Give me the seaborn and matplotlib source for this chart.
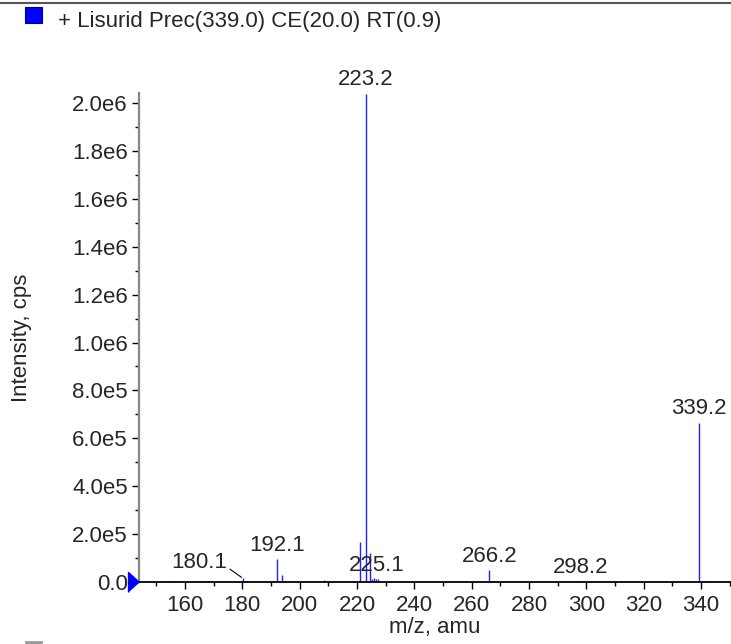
import numpy as np
import matplotlib.pyplot as plt
import seaborn as sns
from matplotlib.ticker import MultipleLocator, FuncFormatter
from matplotlib.patches import Rectangle
from matplotlib.lines import Line2D
import matplotlib.transforms as mtransforms

sns.set_theme(style='ticks')
plt.rcParams['font.family'] = ['Liberation Sans', 'DejaVu Sans']

# spectrum data
title = '+ Lisurid Prec(339.0) CE(20.0) RT(0.9)'
mz = [154.5, 167.5, 168.0, 180.1, 181.8, 190.7, 192.1, 194.0, 208.4, 221.2,
      223.2, 224.6, 225.1, 226.0, 226.6, 227.3, 266.2, 267.2, 298.2, 339.2, 341.0]
intensity = [3e3, 4e3, 4e3, 1.5e4, 3e3, 4e3, 9.35e4, 2.8e4, 7e3, 1.67e5,
             2.04e6, 1.19e5, 1.2e4, 1.5e4, 1.0e4, 1.2e4, 4.9e4, 3e3, 2e3, 6.64e5, 3e3]
peak_labels = ['180.1', '192.1', '223.2', '225.1', '266.2', '298.2', '339.2']

fs = 16

fig = plt.figure(figsize=(7.31, 6.44), dpi=100)
ax = fig.add_axes([0.1902, 0.0967, 0.8098, 0.7589])

ax.vlines(mz, 0, intensity, colors='#2020ff', lw=1.0)

ax.set_xlim(143.96, 350.5)
ax.set_ylim(0, 2.043e6)

# peak labels
for lab in peak_labels:
    x = float(lab)
    y = intensity[mz.index(x)]
    if lab == '180.1':
        ax.annotate(lab, xy=(x, y), xytext=(-11.5, 3.6), textcoords='offset points',
                    ha='right', va='bottom', fontsize=fs,
                    arrowprops=dict(arrowstyle='-', color='black', lw=0.8,
                                    shrinkA=0, shrinkB=1, relpos=(1, 0.3)))
    elif lab == '225.1':
        ax.annotate(lab, xy=(x, y), xytext=(4, 2), textcoords='offset points',
                    ha='center', va='bottom', fontsize=fs)
    else:
        ax.annotate(lab, xy=(x, y), xytext=(0, 2.5), textcoords='offset points',
                    ha='center', va='bottom', fontsize=fs)

def sci(v, pos):
    if v < 1:
        return '0.0'
    e = int(np.floor(np.log10(v) + 1e-9))
    return f'{v / 10**e:.1f}e{e}'

ax.xaxis.set_major_locator(MultipleLocator(20))
ax.xaxis.set_minor_locator(MultipleLocator(10))
ax.yaxis.set_major_locator(MultipleLocator(2e5))
ax.yaxis.set_minor_locator(MultipleLocator(1e5))
ax.yaxis.set_major_formatter(FuncFormatter(sci))

ax.tick_params(axis='both', which='major', labelsize=fs, length=5, width=1, color='black')
ax.tick_params(axis='both', which='minor', length=3, width=1, color='black')
ax.tick_params(axis='x', which='major', pad=4.5)
ax.tick_params(axis='y', which='major', pad=3)

sns.despine(ax=ax, top=True, right=True)
ax.spines['left'].set_color('#888888')
ax.spines['left'].set_linewidth(1.6)
ax.spines['bottom'].set_color('black')
ax.spines['bottom'].set_linewidth(1.3)

ax.set_xlabel('m/z, amu', fontsize=fs, labelpad=0.5)
ax.set_ylabel('Intensity, cps', fontsize=fs)
ax.yaxis.set_label_coords(-0.18, 0.5)

# blue marker on the y axis at zero
off = mtransforms.ScaledTranslation(-0.5 / 100, 0, fig.dpi_scale_trans)
ax.plot([143.96], [0], marker=[(0, 0), (-1.1, 1), (-1.1, -1)], markersize=15.8,
        color='blue', clip_on=False, transform=ax.transData + off, zorder=5)

# header: separator line, legend square and title
fig.add_artist(Line2D([0, 1], [1 - 2.5 / 644, 1 - 2.5 / 644], color='#555555', lw=1.5))
fig.add_artist(Rectangle((25 / 731, 1 - 23 / 644), 17 / 731, 16 / 644,
                         facecolor='blue', edgecolor='#000080', lw=0.8))
fig.text(58 / 731, 1 - 27.5 / 644, title, fontsize=fs, va='baseline', ha='left')
fig.add_artist(Rectangle((25 / 731, 0), 17 / 731, 3 / 644,
                         facecolor='#999999', edgecolor='#999999', lw=0.5))

fig.savefig('out.png', dpi=100)
